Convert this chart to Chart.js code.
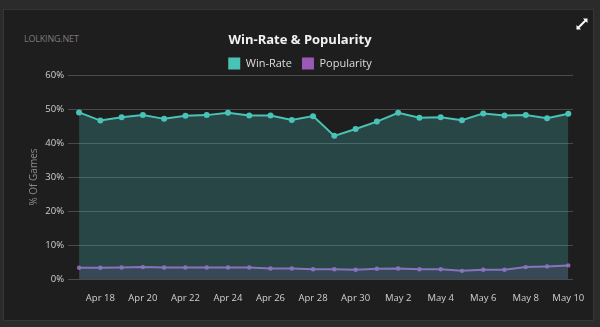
<!DOCTYPE html>
<html><head><meta charset="utf-8">
<script src="https://cdn.jsdelivr.net/npm/chart.js@4/dist/chart.umd.min.js"></script>
<style>
html,body{margin:0;padding:0;background:#2b2b2b;width:600px;height:327px;overflow:hidden;}
#panel{position:absolute;left:3px;top:9px;width:589px;height:310px;background:#1e1e1e;border:1px solid #363636;}
#brand{position:absolute;left:24px;top:32px;font:9px "Open Sans",sans-serif;color:#7a7a7a;letter-spacing:-0.2px;}
#icon{position:absolute;left:576px;top:18px;}
#wrap{position:absolute;left:0;top:0;width:600px;height:327px;}
</style></head>
<body>
<div id="panel"></div>
<div id="brand">LOLKING.NET</div>
<svg id="icon" width="12" height="12" viewBox="0 0 12 12"><path d="M7 0.5 L11.5 0.5 L11.5 5 Z M0.5 7 L0.5 11.5 L5 11.5 Z" fill="#fff"/><path d="M9.5 2.5 L2.5 9.5" stroke="#fff" stroke-width="2"/></svg>
<div id="wrap"><canvas id="c" width="600" height="327"></canvas></div>
<script>
const dates = ['Apr 17','Apr 18','Apr 19','Apr 20','Apr 21','Apr 22','Apr 23','Apr 24','Apr 25','Apr 26','Apr 27','Apr 28','Apr 29','Apr 30','May 1','May 2','May 3','May 4','May 5','May 6','May 7','May 8','May 9','May 10'];
const winRate = [49.0,46.6,47.6,48.2,47.1,48.0,48.2,48.9,48.1,48.1,46.8,47.9,42.1,44.1,46.3,48.9,47.4,47.6,46.7,48.7,48.1,48.2,47.3,48.6];
const popularity = [3.3,3.3,3.4,3.5,3.4,3.4,3.4,3.4,3.4,3.1,3.1,2.85,2.85,2.7,3.0,3.1,2.85,2.85,2.4,2.7,2.7,3.5,3.7,4.0];
const yTicks = [0,10,20,30,40,50,60];

const WIN = '#48c3b5', POP = '#9b59b6';
const font = '"Open Sans", sans-serif';
const toXY = arr => arr.map((v,i)=>({x:i,y:v}));

const chart = new Chart(document.getElementById('c'), {
  type: 'line',
  data: {
    datasets: [
      {label:'Win-Rate', data: toXY(winRate), borderColor: WIN, backgroundColor:'rgba(80,200,200,0.24)', fill:'origin', borderWidth:2, pointRadius:3, pointBackgroundColor:WIN, pointBorderWidth:0, tension:0},
      {label:'Popularity', data: toXY(popularity), borderColor: POP, backgroundColor:'rgba(105,40,120,0.25)', fill:'origin', borderWidth:2, pointRadius:2.2, pointBackgroundColor:POP, pointBorderWidth:0, tension:0}
    ]
  },
  options: {
    responsive:false, animation:false, devicePixelRatio:1,
    layout:{padding:{left:27,right:27,top:0,bottom:0}},
    plugins:{
      title:{display:true, text:'Win-Rate & Popularity', color:'#f2f2f2', font:{family:font, size:13, weight:'bold'}, padding:{top:32,bottom:0}},
      legend:{display:true, labels:{color:'#dddddd', font:{family:font,size:11}, boxWidth:12, boxHeight:12, padding:10,
        generateLabels: ch => ch.data.datasets.map((d,i)=>({text:d.label, fillStyle:d.borderColor, strokeStyle:d.borderColor, lineWidth:0, datasetIndex:i, fontColor:'#dddddd'}))}},
      tooltip:{enabled:false}
    },
    scales:{
      x:{type:'linear', min:-0.52, max:23.22,
        afterBuildTicks: s => { s.ticks = dates.map((d,i)=>({value:i})); },
        afterFit: s => { s.height = 48; },
        grid:{display:false}, border:{display:false},
        ticks:{autoSkip:false, maxRotation:0, padding:6, color:'#d0d0d0', font:{family:font,size:9.5},
          callback: v => (v % 2 === 1 ? dates[v] : '')}
      },
      y:{min:0, max:60,
        afterBuildTicks: s => { s.ticks = yTicks.map(v=>({value:v})); },
        afterFit: s => { s.width = 41; },
        border:{display:false},
        grid:{color:'#4a4a4a', lineWidth:1, drawTicks:false},
        ticks:{padding:4, color:'#d0d0d0', font:{family:font,size:9.5}, callback: v => v + '%'},
        title:{display:true, text:'% Of Games', color:'#8a8a8a', font:{family:font,size:10}, padding:{top:1,bottom:0}}
      }
    }
  }
});
const lg = chart.legend;
const origFit = lg.fit.bind(lg);
lg.fit = function(){ origFit(); this.height = 27.4; };
chart.update('none');
</script>
</body></html>
